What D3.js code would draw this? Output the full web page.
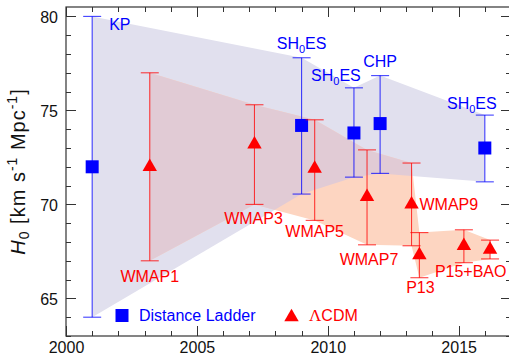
<!DOCTYPE html>
<html>
<head>
<meta charset="utf-8">
<script src="https://cdn.jsdelivr.net/npm/d3@7"></script>
<style>
  html, body { margin: 0; padding: 0; background: #fff; }
  svg { display: block; font-family: "Liberation Sans", Arial, sans-serif; }
</style>
</head>
<body>
<svg id="chart" width="509" height="354"></svg>
<script>
// Distance-ladder measurements of H0
const ladderNames = ["KP", "SH0ES", "SH0ES", "CHP", "SH0ES"];
const ladderYear  = [2001.0, 2009.0, 2011.0, 2012.0, 2016.0];
const ladderH0    = [72.0, 74.2, 73.8, 74.3, 73.0];
const ladderHigh  = [80.0, 77.8, 76.2, 76.85, 74.75];
const ladderLow   = [64.0, 70.55, 71.45, 71.65, 71.2];

// CMB-based (ΛCDM) inferences of H0
const cmbNames = ["WMAP1", "WMAP3", "WMAP5", "WMAP7", "WMAP9", "P13", "P15", "BAO"];
const cmbYear  = [2003.2, 2007.2, 2009.5, 2011.5, 2013.2, 2013.5, 2015.2, 2016.2];
const cmbH0    = [72.0, 73.2, 71.9, 70.4, 70.0, 67.3, 67.8, 67.6];
const cmbHigh  = [77.0, 75.3, 74.5, 72.9, 72.2, 68.5, 68.65, 68.1];
const cmbLow   = [67.0, 70.0, 69.15, 67.85, 67.8, 66.1, 66.9, 67.1];

const xTicks = [2000, 2005, 2010, 2015];
const yTicks = [65, 70, 75, 80];

const legendNames = ["Distance Ladder", "ΛCDM"];

const svg = d3.select("#chart");
const mLeft = 66, mRight = 511, mTop = 7, mBottom = 336;
const x = d3.scaleLinear().domain([2000, 2017]).range([mLeft, mRight]);
const y = d3.scaleLinear().domain([63, 80.5]).range([mBottom, mTop]);

const BLUE = "#0000ff", RED = "#ff0000";
const blueFill = "#e1e0ee", redFill = "#fdd5c1", mixFill = "#e1cbd5";

const ladder = ladderYear.map((t, i) => ({ t, v: ladderH0[i], hi: ladderHigh[i], lo: ladderLow[i], name: ladderNames[i] }));
const cmb = cmbYear.map((t, i) => ({ t, v: cmbH0[i], hi: cmbHigh[i], lo: cmbLow[i], name: cmbNames[i] }));

// Envelope polygons joining the error-bar ends of each series
function bandPoints(s) {
  return s.map(d => [x(d.t), y(d.hi)]).concat(s.slice().reverse().map(d => [x(d.t), y(d.lo)]));
}
const line = d3.line();
const defs = svg.append("defs");
defs.append("clipPath").attr("id", "ladderClip")
  .append("path").attr("d", line(bandPoints(ladder)) + "Z");
defs.append("clipPath").attr("id", "plotClip")
  .append("rect").attr("x", mLeft).attr("y", mTop).attr("width", mRight - mLeft).attr("height", mBottom - mTop);

const plot = svg.append("g").attr("clip-path", "url(#plotClip)");
plot.append("path").attr("d", line(bandPoints(ladder)) + "Z").attr("fill", blueFill);
plot.append("path").attr("d", line(bandPoints(cmb)) + "Z").attr("fill", redFill);
plot.append("path").attr("d", line(bandPoints(cmb)) + "Z").attr("fill", mixFill)
  .attr("clip-path", "url(#ladderClip)");

// Axes: ticks point inward on all four sides
const axisCol = "#333";
const minorX = d3.range(2000, 2018, 1);
const minorY = d3.range(63, 81, 1);
const axes = svg.append("g");
axes.append("rect").attr("x", mLeft).attr("y", mTop).attr("width", mRight - mLeft).attr("height", mBottom - mTop)
  .attr("fill", "none").attr("stroke", axisCol).attr("stroke-width", 1.2);

function tickLen(v, majors) { return majors.includes(v) ? 10 : 5; }
minorX.forEach(v => {
  const len = tickLen(v, xTicks), px = Math.round(x(v)) + 0.5;
  axes.append("line").attr("x1", px).attr("x2", px).attr("y1", mBottom).attr("y2", mBottom - len).attr("stroke", axisCol);
  axes.append("line").attr("x1", px).attr("x2", px).attr("y1", mTop).attr("y2", mTop + len).attr("stroke", axisCol);
});
minorY.forEach(v => {
  const len = tickLen(v, yTicks), py = Math.round(y(v)) + 0.5;
  axes.append("line").attr("x1", mLeft).attr("x2", mLeft + len).attr("y1", py).attr("y2", py).attr("stroke", axisCol);
  axes.append("line").attr("x1", mRight).attr("x2", mRight - len).attr("y1", py).attr("y2", py).attr("stroke", axisCol);
});

const xAxis = d3.axisBottom(x).tickValues(xTicks).tickSize(0).tickPadding(0).tickFormat(d3.format("d"));
const gx = svg.append("g").attr("transform", `translate(0,${mBottom})`).call(xAxis);
gx.select(".domain").remove();
gx.selectAll("text").attr("y", 16.5).attr("dy", 0).attr("font-size", 16).attr("fill", "#111")
  .attr("font-family", "Liberation Sans, Arial, sans-serif");

const yAxis = d3.axisLeft(y).tickValues(yTicks).tickSize(0).tickPadding(8);
const gy = svg.append("g").attr("transform", `translate(${mLeft},0)`).call(yAxis);
gy.select(".domain").remove();
gy.selectAll("text").attr("font-size", 16).attr("fill", "#111").attr("dy", "0.36em")
  .attr("font-family", "Liberation Sans, Arial, sans-serif");

// Y axis title
const yt = svg.append("text").attr("transform", `translate(25,${(mTop + mBottom) / 2}) rotate(-90)`)
  .attr("text-anchor", "middle").attr("font-size", 20).attr("letter-spacing", 1).attr("fill", "#111");
yt.append("tspan").attr("font-style", "italic").text("H");
yt.append("tspan").attr("font-size", 14).attr("dy", 4).text("0");
yt.append("tspan").attr("dy", -4).text(" [km s");
yt.append("tspan").attr("font-size", 14).attr("dy", -8).text("-1");
yt.append("tspan").attr("dy", 8).text(" Mpc");
yt.append("tspan").attr("font-size", 14).attr("dy", -8).text("-1");
yt.append("tspan").attr("dy", 8).text("]");

// Error bars and markers
function drawSeries(data, color, symbol, size) {
  const g = svg.append("g");
  data.forEach(d => {
    const px = x(d.t);
    g.append("line").attr("x1", px).attr("x2", px).attr("y1", y(d.hi)).attr("y2", y(d.lo))
      .attr("stroke", color).attr("stroke-width", 1.1).attr("stroke-opacity", 0.75);
    [d.hi, d.lo].forEach(v => g.append("line").attr("x1", px - 9).attr("x2", px + 9)
      .attr("y1", y(v)).attr("y2", y(v)).attr("stroke", color).attr("stroke-width", 1.1).attr("stroke-opacity", 0.75));
  });
  g.selectAll("path.m").data(data).join("path").attr("class", "m")
    .attr("d", d3.symbol(symbol, size))
    .attr("transform", d => `translate(${x(d.t)},${y(d.v)})`)
    .attr("fill", color);
}
drawSeries(ladder, BLUE, d3.symbolSquare, 169);
drawSeries(cmb, RED, d3.symbolTriangle, 90);

// Text labels next to each measurement
function label(txt, px, py, anchor, color) {
  const t = svg.append("text").attr("x", px).attr("y", py).attr("text-anchor", anchor)
    .attr("font-size", 16).attr("fill", color);
  const m = txt.match(/^(.*?)H0(.*)$/);
  if (m) {
    t.append("tspan").text(m[1] + "H");
    t.append("tspan").attr("font-size", 11).attr("dy", 4).text("0");
    t.append("tspan").attr("dy", -4).text(m[2]);
  } else t.text(txt);
  return t;
}
const L = ladder;
label(L[0].name, x(L[0].t) + 17, y(L[0].hi) + 14, "start", BLUE);
label(L[1].name, x(L[1].t), y(L[1].hi) - 9, "middle", BLUE);
label(L[2].name, x(L[2].t) - 18, y(L[2].hi) - 7, "middle", BLUE);
label(L[3].name, x(L[3].t), y(L[3].hi) - 9, "middle", BLUE);
label(L[4].name, x(L[4].t) - 13, y(L[4].hi) - 6, "middle", BLUE);

const C = cmb;
label(C[0].name, x(C[0].t), y(C[0].lo) + 21, "middle", RED);
label(C[1].name, x(C[1].t) - 1, y(C[1].lo) + 20, "middle", RED);
label(C[2].name, x(C[2].t), y(C[2].lo) + 17, "middle", RED);
label(C[3].name, x(C[3].t) + 2, y(C[3].lo) + 20, "middle", RED);
label(C[4].name, x(C[4].t) + 8, y(C[4].v) + 6, "start", RED);
label(C[5].name, x(C[5].t) + 1, y(C[5].lo) + 15, "middle", RED);
label(C[6].name + "+" + C[7].name, x(C[6].t) - 29, y(C[6].lo) + 14, "start", RED);

// Legend
const lg = svg.append("g");
lg.append("path").attr("d", d3.symbol(d3.symbolSquare, 169)).attr("transform", "translate(122,315.5)").attr("fill", BLUE);
lg.append("text").attr("x", 139).attr("y", 321).attr("font-size", 16).attr("fill", BLUE).text(legendNames[0]);
lg.append("path").attr("d", d3.symbol(d3.symbolTriangle, 90)).attr("transform", "translate(291.5,317)").attr("fill", RED);
const lt = lg.append("text").attr("x", 309).attr("y", 321).attr("font-size", 16).attr("fill", RED);
lt.append("tspan").attr("font-family", "Liberation Serif, serif").attr("font-size", 17).text(legendNames[1].slice(0, 1));
lt.append("tspan").text(legendNames[1].slice(1));
</script>
</body>
</html>
